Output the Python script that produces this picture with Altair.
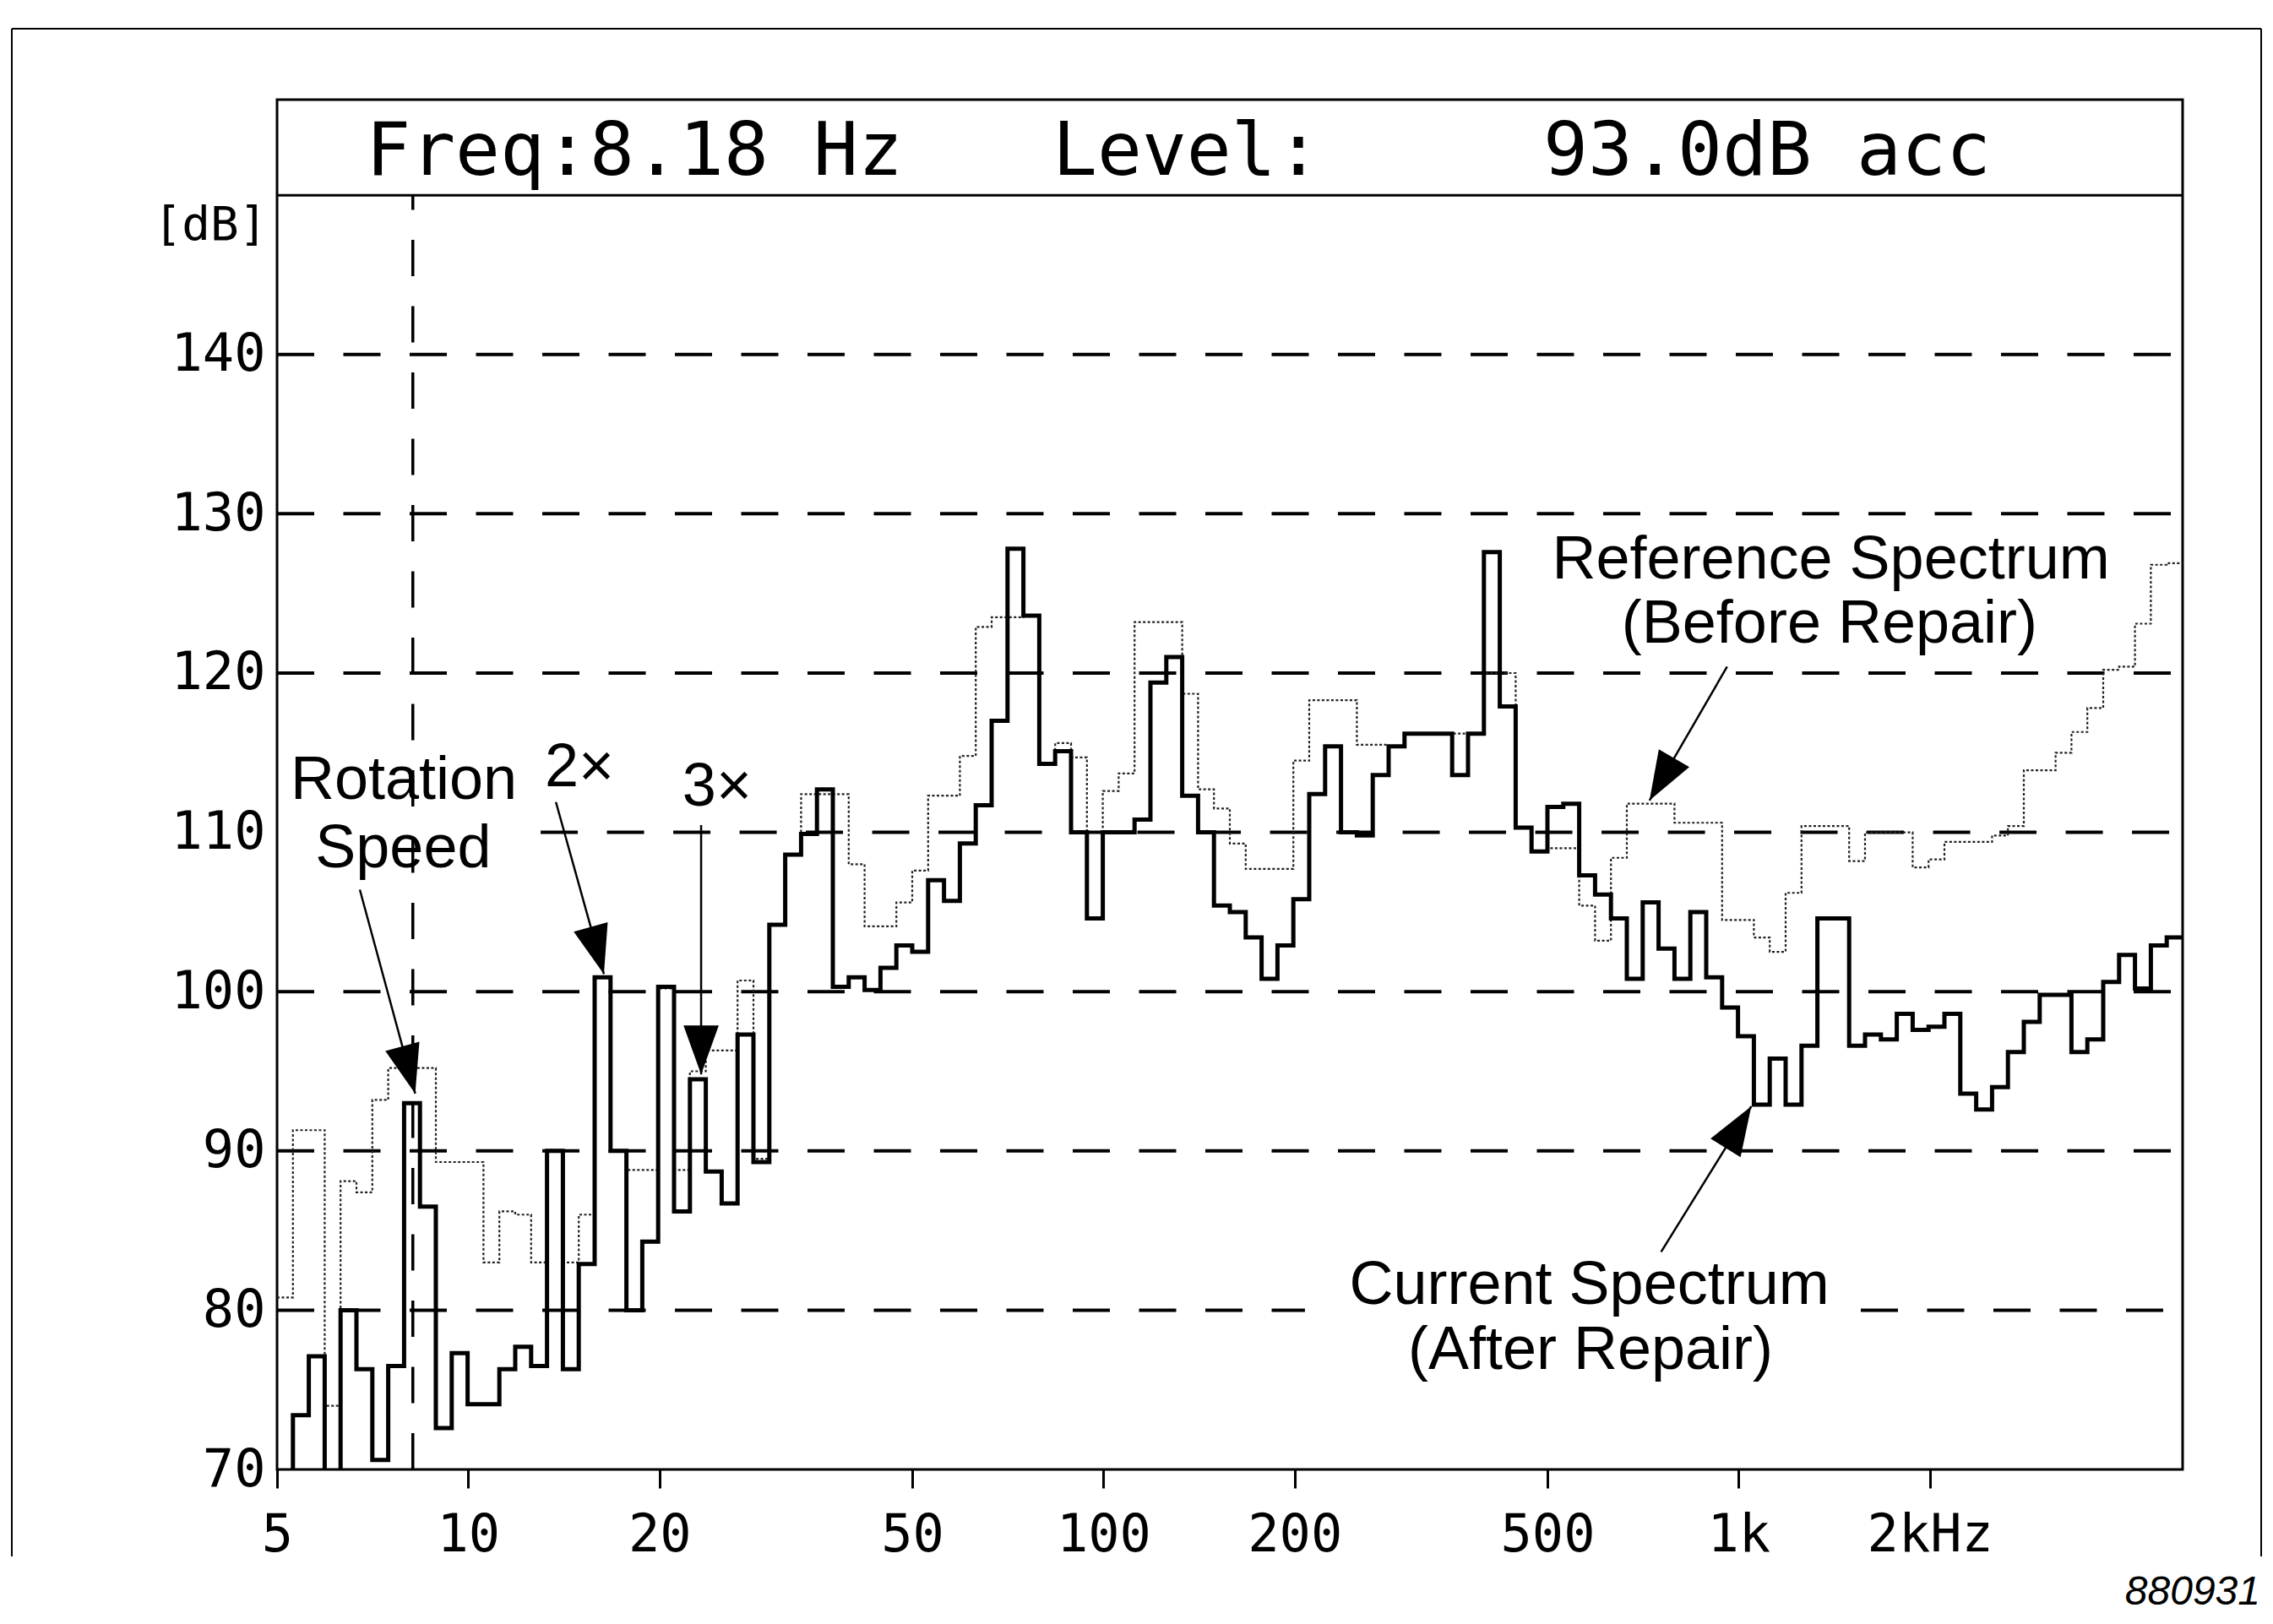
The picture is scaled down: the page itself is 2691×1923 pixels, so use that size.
import math
import altair as alt
import pandas as pd

# ---------------- data ----------------
F_MIN = 5.0
F_MAX = 5000.0
BANDS_PER_DECADE = 40          # constant-percentage bands of the analyser

current_db = [
    69.0, 73.4, 77.1, 69.0, 80.0, 76.3, 70.6, 76.5, 93.0, 86.5,
    72.6, 77.3, 74.1, 74.1, 76.3, 77.7, 76.5, 90.0, 76.3, 82.9,
    100.9, 90.0, 80.0, 84.3, 100.3, 86.2, 94.5, 88.7, 86.7, 97.3,
    89.3, 104.2, 108.6, 109.9, 112.7, 100.3, 100.9, 100.1, 101.5, 102.9,
    102.5, 107.0, 105.7, 109.3, 111.7, 117.0, 127.8, 123.6, 114.3, 115.1,
    110.0, 104.6, 110.0, 110.0, 110.8, 119.4, 121.0, 112.3, 110.0, 105.4,
    105.0, 103.4, 100.8, 102.9, 105.8, 112.4, 115.4, 110.0, 109.8, 113.6,
    115.4, 116.2, 116.2, 116.2, 113.6, 116.2, 127.6, 117.9, 110.3, 108.8,
    111.6, 111.8, 107.3, 106.1, 104.6, 100.8, 105.6, 102.7, 100.8, 105.0,
    100.9, 99.0, 97.2, 92.9, 95.8, 92.9, 96.6, 104.6, 104.6, 96.6,
    97.3, 97.0, 98.6, 97.6, 97.8, 98.6, 93.6, 92.6, 94.0, 96.2,
    98.1, 99.8, 99.8, 96.2, 97.0, 100.6, 102.3, 100.2, 102.9, 103.4,
]

reference_db = [
    80.8, 91.3, 91.3, 74.0, 88.1, 87.4, 93.2, 95.2, 95.2, 95.2,
    89.3, 89.3, 89.3, 83.0, 86.2, 86.0, 83.0, 90.0, 83.0, 86.0,
    100.9, 90.0, 88.8, 88.8, 100.2, 88.8, 95.0, 96.3, 96.3, 100.7,
    89.5, 104.2, 108.6, 112.4, 112.4, 112.4, 108.0, 104.1, 104.1, 105.6,
    107.6, 112.3, 112.3, 114.8, 122.9, 123.5, 123.5, 123.6, 114.3, 115.6,
    114.7, 104.6, 112.6, 113.7, 123.2, 123.2, 123.2, 118.7, 112.7, 111.5,
    109.3, 107.7, 107.7, 107.7, 114.5, 118.3, 118.3, 118.3, 115.5, 115.5,
    115.4, 116.2, 116.2, 116.2, 116.2, 116.2, 120.0, 120.0, 110.3, 108.8,
    109.0, 109.0, 105.4, 103.2, 108.4, 111.8, 111.8, 111.8, 110.6, 110.6,
    110.6, 104.5, 104.5, 103.4, 102.5, 106.2, 110.4, 110.4, 110.4, 108.2,
    110.0, 110.0, 110.0, 107.8, 108.3, 109.4, 109.4, 109.4, 109.8, 110.4,
    113.9, 113.9, 115.0, 116.3, 117.8, 120.2, 120.4, 123.1, 126.8, 126.9,
]

x_tick_values = [5, 10, 20, 50, 100, 200, 500, 1000, 2000]
x_tick_labels = ["5", "10", "20", "50", "100", "200", "500", "1k", "2kHz"]
y_tick_values = [70, 80, 90, 100, 110, 120, 130, 140]
grid_levels = [80, 90, 100, 110, 120, 130, 140]

cursor_freq = 8.18
header_texts = ["Freq:8.18 Hz", "Level:", "93.0dB acc"]

annotation_texts = ["Rotation", "Speed", "2\u00d7", "3\u00d7",
                    "Reference Spectrum", "(Before Repair)",
                    "Current Spectrum", "(After Repair)"]

# ---------------- layout ----------------
W, H = 2256, 1622
Y_MIN, Y_TOP, HEADER_DB = 70.0, 156.0, 150.0
MONO = "DejaVu Sans Mono"
SANS = "Liberation Sans"

x_scale = alt.Scale(type="log", domain=[F_MIN, F_MAX], nice=False)
y_scale = alt.Scale(domain=[Y_MIN, Y_TOP], nice=False, zero=False)

n = len(current_db)
edges = [F_MIN * 10 ** (k / BANDS_PER_DECADE) for k in range(n + 1)]


def step_frame(values):
    rows = [{"f": edges[k], "db": values[k], "o": k} for k in range(n)]
    rows.append({"f": edges[n], "db": values[-1], "o": n})
    return pd.DataFrame(rows)


cur_df = step_frame(current_db)
ref_df = step_frame(reference_db)

label_expr = " : ".join(
    f"datum.value == {v} ? '{t}'" for v, t in zip(x_tick_values, x_tick_labels)
) + " : ''"

x_axis = alt.Axis(values=x_tick_values, labelExpr=label_expr, grid=False,
                  domain=False, ticks=True, tickSize=22, tickWidth=3,
                  tickColor="black", labelFont=MONO, labelFontSize=62,
                  labelColor="black", labelPadding=25, labelFlush=False,
                  labelOverlap=False, title=None)
y_axis = alt.Axis(values=y_tick_values, grid=False, domain=False, ticks=False,
                  tickSize=0, labelFont=MONO, labelFontSize=62,
                  labelColor="black", labelPadding=14, labelOverlap=False,
                  title="[dB]", titleAngle=0, titleFont=MONO, titleFontSize=56,
                  titleFontWeight="normal", titleColor="black",
                  titleAlign="right", titleBaseline="middle",
                  titleX=-12, titleY=148)


def X(field):
    return alt.X(field, scale=x_scale, axis=x_axis)


def Y(field):
    return alt.Y(field, scale=y_scale, axis=y_axis)


# ---------------- gridlines ----------------
grid_rows = []
for g in grid_levels:
    if g == 80:
        grid_rows += [{"f1": F_MIN, "f2": 207.6, "db": g},
                      {"f1": 1557.0, "f2": F_MAX, "db": g}]
    elif g == 110:
        grid_rows += [{"f1": 13.0, "f2": F_MAX, "db": g}]
    else:
        grid_rows += [{"f1": F_MIN, "f2": F_MAX, "db": g}]
grid_df = pd.DataFrame(grid_rows)

grid = alt.Chart(grid_df).mark_rule(color="black", strokeWidth=4,
                                    strokeDash=[44, 34.5]).encode(
    x=X("f1:Q"), x2="f2:Q", y=Y("db:Q"))

header_line = alt.Chart(pd.DataFrame([{"f1": F_MIN, "f2": F_MAX, "db": HEADER_DB}])
                        ).mark_rule(color="black", strokeWidth=3).encode(
    x=X("f1:Q"), x2="f2:Q", y=Y("db:Q"))

cursor = alt.Chart(pd.DataFrame([{"f": cursor_freq, "y1": Y_MIN, "y2": HEADER_DB}])
                   ).mark_rule(color="black", strokeWidth=3.5,
                               strokeDash=[43, 35.5]).encode(
    x=X("f:Q"), y=Y("y1:Q"), y2="y2:Q")

# ---------------- spectra ----------------
ref_line = alt.Chart(ref_df).mark_line(
    interpolate="step-after", color="#222222", strokeWidth=2.2,
    strokeDash=[3, 2.5], clip=True).encode(
    x=X("f:Q"), y=Y("db:Q"), order="o:Q")

cur_line = alt.Chart(cur_df).mark_line(
    interpolate="step-after", color="black", strokeWidth=5,
    strokeJoin="miter", clip=True).encode(
    x=X("f:Q"), y=Y("db:Q"), order="o:Q")

# ---------------- header text ----------------
header_df = pd.DataFrame({"text": header_texts,
                          "f": [18.26, 135.2, 1108.5],
                          "db": [151.3, 151.3, 151.3]})
header = alt.Chart(header_df).mark_text(
    font=MONO, fontSize=88, align="center", baseline="alphabetic",
    color="black").encode(x=X("f:Q"), y=Y("db:Q"), text="text:N")

# ---------------- annotations ----------------
ann_df = pd.DataFrame({
    "text": annotation_texts,
    "f": [7.915, 7.9, 14.96, 24.64, 1397.0, 1390.0, 582.0, 584.5],
    "db": [112.1, 107.8, 112.9, 111.7, 125.95, 121.9, 80.4, 76.3],
})
ann = alt.Chart(ann_df).mark_text(
    font=SANS, fontSize=72, align="center", baseline="alphabetic",
    color="black").encode(x=X("f:Q"), y=Y("db:Q"), text="text:N")


def to_px(f, db):
    return (W * math.log10(f / F_MIN) / math.log10(F_MAX / F_MIN),
            H * (Y_TOP - db) / (Y_TOP - Y_MIN))


arrow_rows = []
for f1, d1, f2, d2 in [(6.75, 106.4, 8.25, 93.6),
                       (13.74, 111.9, 16.35, 101.1),
                       (23.26, 110.45, 23.26, 94.8),
                       (959.0, 120.4, 723.9, 112.0),
                       (755.0, 83.66, 1047.0, 92.8)]:
    x1, y1 = to_px(f1, d1)
    x2, y2 = to_px(f2, d2)
    ang = math.degrees(math.atan2(x2 - x1, -(y2 - y1))) % 360
    arrow_rows.append({"f1": f1, "d1": d1, "f2": f2, "d2": d2, "angle": ang})
arrow_df = pd.DataFrame(arrow_rows)

arrow_lines = alt.Chart(arrow_df).mark_rule(color="black", strokeWidth=2.5).encode(
    x=X("f1:Q"), x2="f2:Q", y=Y("d1:Q"), y2="d2:Q")

HEAD = "M0,0 L-0.36,1 L0.36,1 Z"
arrow_heads = alt.Chart(arrow_df).mark_point(
    shape=HEAD, filled=True, size=13456, color="black", opacity=1,
    strokeWidth=0).encode(
    x=X("f2:Q"), y=Y("d2:Q"), angle=alt.Angle("angle:Q", scale=None))

# ---------------- page decorations ----------------
one = pd.DataFrame([{"a": 0}])
frame_top = alt.Chart(one).mark_rule(color="black", strokeWidth=2).encode(
    x=alt.value(-314), x2=alt.value(2349), y=alt.value(-84))
frame_left = alt.Chart(one).mark_rule(color="black", strokeWidth=2).encode(
    x=alt.value(-314), y=alt.value(-84), y2=alt.value(1725))
frame_right = alt.Chart(one).mark_rule(color="black", strokeWidth=2).encode(
    x=alt.value(2349), y=alt.value(-84), y2=alt.value(1725))
code_text = alt.Chart(one).mark_text(
    text="880931", font=SANS, fontStyle="italic", fontSize=48,
    align="right", baseline="alphabetic", color="black").encode(
    x=alt.value(2348), y=alt.value(1782))

chart = alt.layer(
    grid, header_line, cursor, ref_line, cur_line, header, ann,
    arrow_lines, arrow_heads, frame_top, frame_left, frame_right, code_text,
).properties(
    width=W, height=H,
    autosize=alt.AutoSizeParams(type="none"),
    padding={"left": 320, "top": 110, "right": 99, "bottom": 175},
    background="white",
).configure_view(stroke="black", strokeWidth=3)

chart.save("out.html", embed_options={"renderer": "svg", "actions": False})
